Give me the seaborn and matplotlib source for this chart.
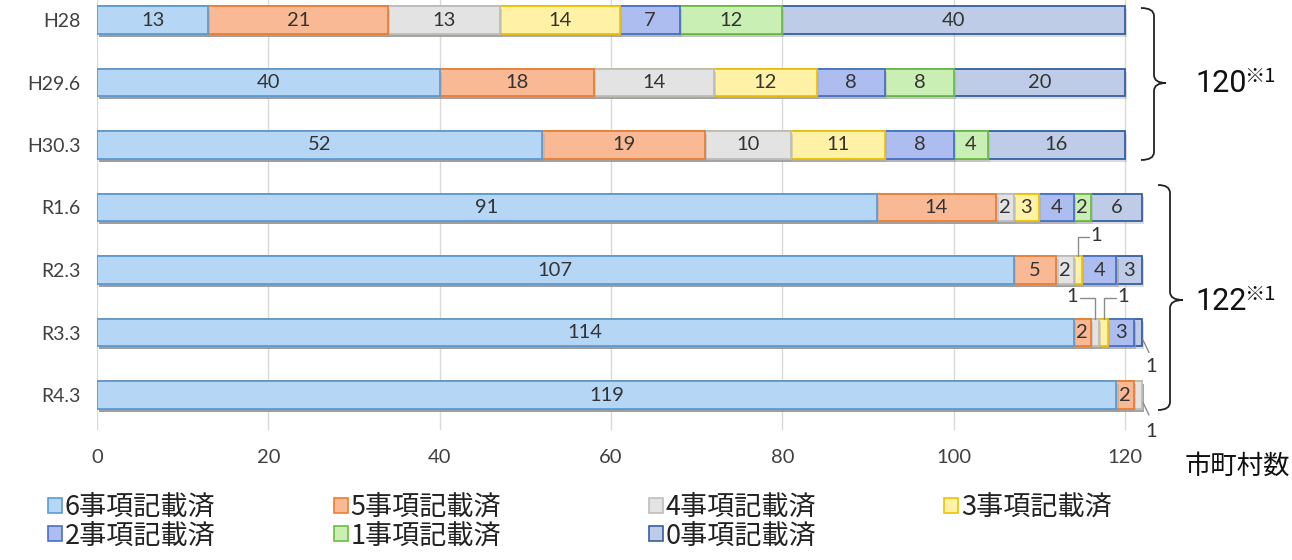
import numpy as np
import pandas as pd
import matplotlib
matplotlib.use("Agg")
import matplotlib.pyplot as plt
from matplotlib.patches import Patch
from matplotlib.path import Path
from matplotlib.patches import PathPatch
import matplotlib.patheffects as pe
import seaborn as sns

# ---- data -----------------------------------------------------------------
periods = ["H28", "H29.6", "H30.3", "R1.6", "R2.3", "R3.3", "R4.3"]
items = ["6事項記載済", "5事項記載済", "4事項記載済", "3事項記載済",
         "2事項記載済", "1事項記載済", "0事項記載済"]
n6 = [13, 40, 52, 91, 107, 114, 119]
n5 = [21, 18, 19, 14, 5, 2, 2]
n4 = [13, 14, 10, 2, 2, 1, 1]
n3 = [14, 12, 11, 3, 1, 1, 0]
n2 = [7, 8, 8, 4, 4, 3, 0]
n1 = [12, 8, 4, 2, 0, 0, 0]
n0 = [40, 20, 16, 6, 3, 1, 0]
x_ticks = [0, 20, 40, 60, 80, 100, 120]

fills = ["#b5d7f5", "#f9b994", "#e3e3e3", "#fff1a6", "#aebdf0", "#caefb4", "#bfcce8"]
edges = ["#5b9bd5", "#ed7d31", "#bdbdbd", "#f2c200", "#4a6fca", "#6dbd43", "#345fa3"]

counts = np.array([n6, n5, n4, n3, n2, n1, n0], dtype=float)
cum = counts.cumsum(axis=0)
df = pd.DataFrame({"period": periods})
for i, it in enumerate(items):
    df[it] = cum[i]

# ---- figure -----------------------------------------------------------------
sns.set_theme(style="white")
plt.rcParams["font.family"] = ["Lato", "Noto Sans CJK JP", "DejaVu Sans"]

W, H = 1292, 560
fig = plt.figure(figsize=(W / 100, H / 100), dpi=100)
px_per_unit = 1028 / 120
x_max = 126
ax = fig.add_axes([97 / W, 130 / H, x_max * px_per_unit / W, 430 / H])

shadow = [pe.SimplePatchShadow(offset=(1.5, -2), shadow_rgbFace="#9a9a9a", alpha=0.35), pe.Normal()]

# stacked bars: cumulative totals drawn longest first, each shorter one on top
for i in range(len(items) - 1, -1, -1):
    sns.barplot(data=df, x=items[i], y="period", orient="h", color=fills[i],
                saturation=1, edgecolor=edges[i], linewidth=1.3, width=0.44, ax=ax)

for p in ax.patches:
    p.set_path_effects(shadow)

ax.set_xlim(0, x_max)
ax.set_ylim(6.56, -0.32)
ax.set_xticks(x_ticks)
ax.set_xticklabels([str(t) for t in x_ticks], fontsize=14.5, color="#404040")
ax.tick_params(axis="x", length=0, pad=14)
ax.tick_params(axis="y", length=0, pad=12, labelsize=14, labelcolor="#404040")
ax.set_xlabel("")
ax.set_ylabel("")
for s in ax.spines.values():
    s.set_visible(False)
ax.grid(False)
for t in x_ticks:
    ax.axvline(t, color="#d9d9d9", lw=1, zorder=0)

# value labels
lab_color = "#333333"
lab_size = 14.5
for r in range(len(periods)):
    left = 0
    for i in range(len(items)):
        v = counts[i, r]
        if v >= 2:
            ax.text(left + v / 2, r, f"{int(v)}", ha="center", va="center",
                    fontsize=lab_size, color=lab_color, zorder=5)
        left += v

# leader labels for the narrow one-count segments
lc = "#8c8c8c"
def leader(pts, tx, ty, ha):
    xs, ys = zip(*pts)
    ax.plot(xs, ys, color=lc, lw=1, zorder=6, clip_on=False)
    ax.text(tx, ty, "1", ha=ha, va="center", fontsize=lab_size, color=lab_color, clip_on=False)

leader([(114.5, 3.78), (114.5, 3.47), (115.8, 3.47)], 116.0, 3.45, "left")
leader([(114.7, 4.45), (116.5, 4.45), (116.5, 4.78)], 114.5, 4.43, "right")
leader([(117.5, 4.78), (117.5, 4.45), (118.9, 4.45)], 119.1, 4.43, "left")
leader([(122.1, 5.12), (122.8, 5.32)], 123.1, 5.55, "center")
leader([(122.1, 6.12), (122.8, 6.32)], 123.1, 6.58, "center")

# ---- braces and totals ------------------------------------------------------
def fx(px):
    return px / W

def fy(py):
    return 1 - py / H

def brace(xl, xm, xt, ytop, ymid, ybot, r=8):
    verts = [
        (xl, ytop), (xm, ytop), (xm, ytop + r),
        (xm, ymid - r), (xm, ymid), (xt, ymid),
        (xm, ymid), (xm, ymid + r),
        (xm, ybot - r), (xm, ybot), (xl, ybot),
    ]
    codes = [Path.MOVETO, Path.CURVE3, Path.CURVE3,
             Path.LINETO, Path.CURVE3, Path.CURVE3,
             Path.CURVE3, Path.CURVE3,
             Path.LINETO, Path.CURVE3, Path.CURVE3]
    verts = [(fx(a), fy(b)) for a, b in verts]
    fig.add_artist(PathPatch(Path(verts, codes), fill=False, lw=1.3,
                             edgecolor="#222222", transform=fig.transFigure))

brace(1141, 1154, 1166, 8, 83, 160)
brace(1158, 1170, 1183, 185, 300, 410)

def total(px, py, main):
    fig.text(fx(px), fy(py), main, ha="left", va="center", fontsize=22,
             color="#111111", family=["Roboto", "Noto Sans CJK JP"])
    fig.text(fx(px + 49), fy(py - 8), "※1", ha="left", va="center", fontsize=14.5,
             color="#111111", family=["Noto Sans CJK JP"])

total(1195, 84, "120")
total(1195, 302, "122")

fig.text(fx(1185), fy(466), "市町村数", ha="left", va="center", fontsize=19,
         color="#111111", family=["Noto Sans CJK JP"])

# ---- legend: four columns placed individually --------------------------------
columns = [[0, 4], [1, 5], [2, 6], [3]]
col_x = [48, 334, 649, 944]
for cx, col in zip(col_x, columns):
    hs = [Patch(facecolor=fills[i], edgecolor=edges[i], lw=1.2) for i in col]
    leg = fig.legend(hs, [items[i] for i in col], loc="upper left",
                     bbox_to_anchor=(fx(cx), fy(494)), frameon=False,
                     borderpad=0, borderaxespad=0,
                     handlelength=0.5, handleheight=0.5, handletextpad=0.12,
                     labelspacing=0.05,
                     prop={"family": ["Noto Sans CJK JP"], "size": 19.5})
    for t in leg.get_texts():
        t.set_color("#222222")

fig.savefig("out.png", dpi=100)
